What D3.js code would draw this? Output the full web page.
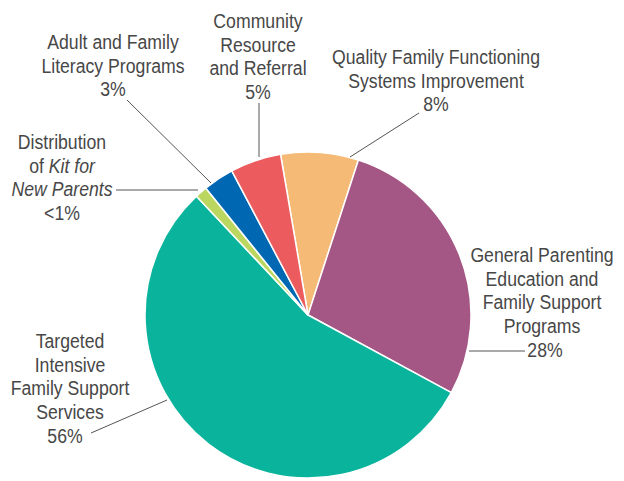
<!DOCTYPE html>
<html><head><meta charset="utf-8">
<script src="https://cdn.jsdelivr.net/npm/d3@7"></script>
<style>
html,body{margin:0;padding:0;background:#fff;}
svg text{font-family:"Liberation Sans",Arial,sans-serif;fill:#474747;font-size:20px;}
</style></head>
<body><svg id="c" width="624" height="481"></svg>
<script>
const categories = ["Quality Family Functioning Systems Improvement","General Parenting Education and Family Support Programs","Targeted Intensive Family Support Services","Distribution of Kit for New Parents","Adult and Family Literacy Programs","Community Resource and Referral"];
const values = [7.7, 27.9, 55.1, 1.2, 3.05, 5.05];
const percentLabels = ["8%","28%","56%","<1%","3%","5%"];
const colors = ["#F5BB76","#A45784","#0AB39B","#BCD760","#0068B2","#EC5C5E"];

const svg = d3.select("#c");
const cx = 308, cy = 315, R = 163;
const g = svg.append("g").attr("transform",`translate(${cx},${cy})`);
const startDeg = -9.7;
const pie = d3.pie().sort(null).value(d=>d).startAngle(startDeg*Math.PI/180).endAngle((startDeg+360)*Math.PI/180);
const arcs = pie(values);
const arc = d3.arc().innerRadius(0).outerRadius(R);
g.selectAll("path").data(arcs).enter().append("path")
  .attr("d",arc).attr("fill",(d,i)=>colors[i])
  .attr("stroke","#fff").attr("stroke-width",1.5).attr("stroke-linejoin","round");

// measure horizontal condensing factor
const probe = svg.append("text").text("Quality Family Functioning");
const sx = 208 / probe.node().getComputedTextLength();
probe.remove();

const lh = 23.7;
const labels = [
  {lines:[["Quality Family Functioning"],["Systems Improvement"],[percentLabels[0]]], x:436, y:57, leader:[[419,113],[350,157]]},
  {lines:[["General Parenting"],["Education and"],["Family Support"],["Programs"],[percentLabels[1]]], x:542, y:255, leader:[[525,351],[469,351]], lastX:545},
  {lines:[["Targeted"],["Intensive"],["Family Support"],["Services"],[percentLabels[2]]], x:70, y:341, leader:[[91,433],[167,400]], lastX:65},
  {lines:[["Distribution"],[["of ",false],["Kit for",true]],[["New Parents",true]],[percentLabels[3]]], x:62, y:142, leader:[[116,190],[198,190]]},
  {lines:[["Adult and Family"],["Literacy Programs"],[percentLabels[4]]], x:113, y:42, leader:[[127,100],[211,183]]},
  {lines:[["Community"],["Resource"],["and Referral"],[percentLabels[5]]], x:258, y:21, leader:[[259,103],[259,157]]}
];

labels.forEach((L,i)=>{
  svg.append("polyline").attr("points",L.leader.map(p=>p.join(",")).join(" "))
    .attr("fill","none").attr("stroke","#555").attr("stroke-width",1);
  const lg = svg.append("g").attr("transform",`translate(${L.x},0) scale(${sx},1)`);
  const t = lg.append("text").attr("text-anchor","middle");
  L.lines.forEach((ln,j)=>{
    const x = (j===L.lines.length-1 && L.lastX) ? (L.lastX-L.x)/sx : 0;
    const y = L.y + j*lh + 7;
    if (typeof ln[0] === "string") {
      t.append("tspan").attr("x",x).attr("y",y).text(ln[0]);
    } else {
      ln.forEach((seg,k)=>{
        const s = t.append("tspan").text(seg[0]);
        if(k===0) s.attr("x",x).attr("y",y);
        if(seg[1]) s.attr("font-style","italic");
      });
    }
  });
});
</script></body></html>
